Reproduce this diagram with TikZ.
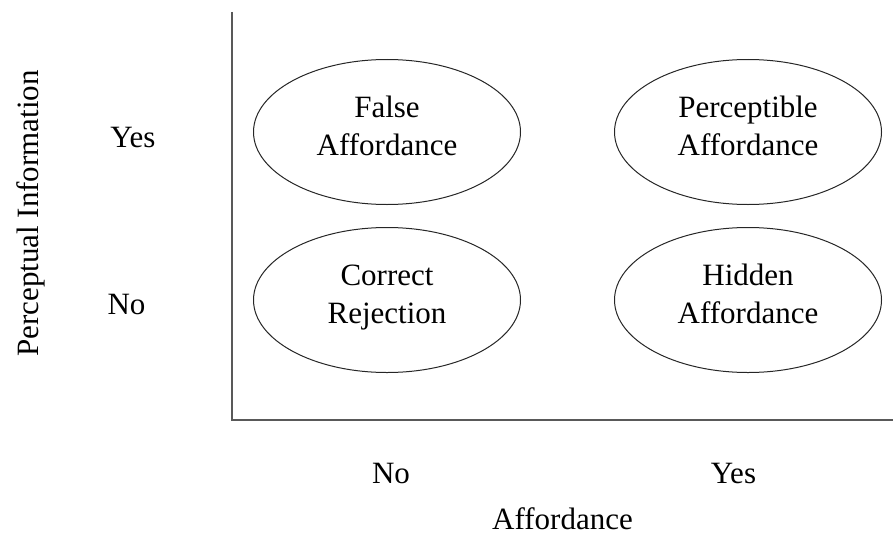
\documentclass[tikz,border=0pt]{standalone}
\usepackage{fontspec}
\setmainfont{Liberation Serif}
\usetikzlibrary{shapes.geometric}
\begin{document}
\begin{tikzpicture}[x=1pt,y=-1pt,
  axisline/.style={draw=black!65,line width=2pt},
  cell/.style={draw=black!85,line width=1pt,ellipse,minimum width=267pt,minimum height=145pt,inner sep=0pt},
  celltext/.style={align=center,font=\fontsize{31}{38}\selectfont,text depth=0pt,inner sep=0pt,yshift=6pt},
  lbl/.style={font=\fontsize{31}{38}\selectfont,anchor=base,inner sep=0pt}]
  \useasboundingbox (0,0) rectangle (893,535);

  % axes
  \coordinate (top) at (232,12);
  \coordinate (origin) at (232,420);
  \coordinate (right) at (893,420);
  \draw[axisline] (top) -- (origin) -- (right);

  % quadrants
  \node[cell] (fa) at (387,132) {};
  \node[cell] (pa) at (748,132) {};
  \node[cell] (cr) at (387,300) {};
  \node[cell] (ha) at (748,300) {};
  \node[celltext] (fat) at (fa.center) {False\\Affordance};
  \node[celltext] (pat) at (pa.center) {Perceptible\\Affordance};
  \node[celltext] (crt) at (cr.center) {Correct\\Rejection};
  \node[celltext] (hat) at (ha.center) {Hidden\\Affordance};

  % axis labels
  \node[lbl] (yyes) at (133,147) {Yes};
  \node[lbl] (yno) at (126.5,314) {No};
  \node[lbl] (xno) at (391,483) {No};
  \node[lbl] (xyes) at (733.5,483) {Yes};
  \node[lbl] (xtitle) at (562.5,529) {Affordance};
  \node[lbl,rotate=90] (ytitle) at (38,213.5) {Perceptual Information};
\end{tikzpicture}
\end{document}
